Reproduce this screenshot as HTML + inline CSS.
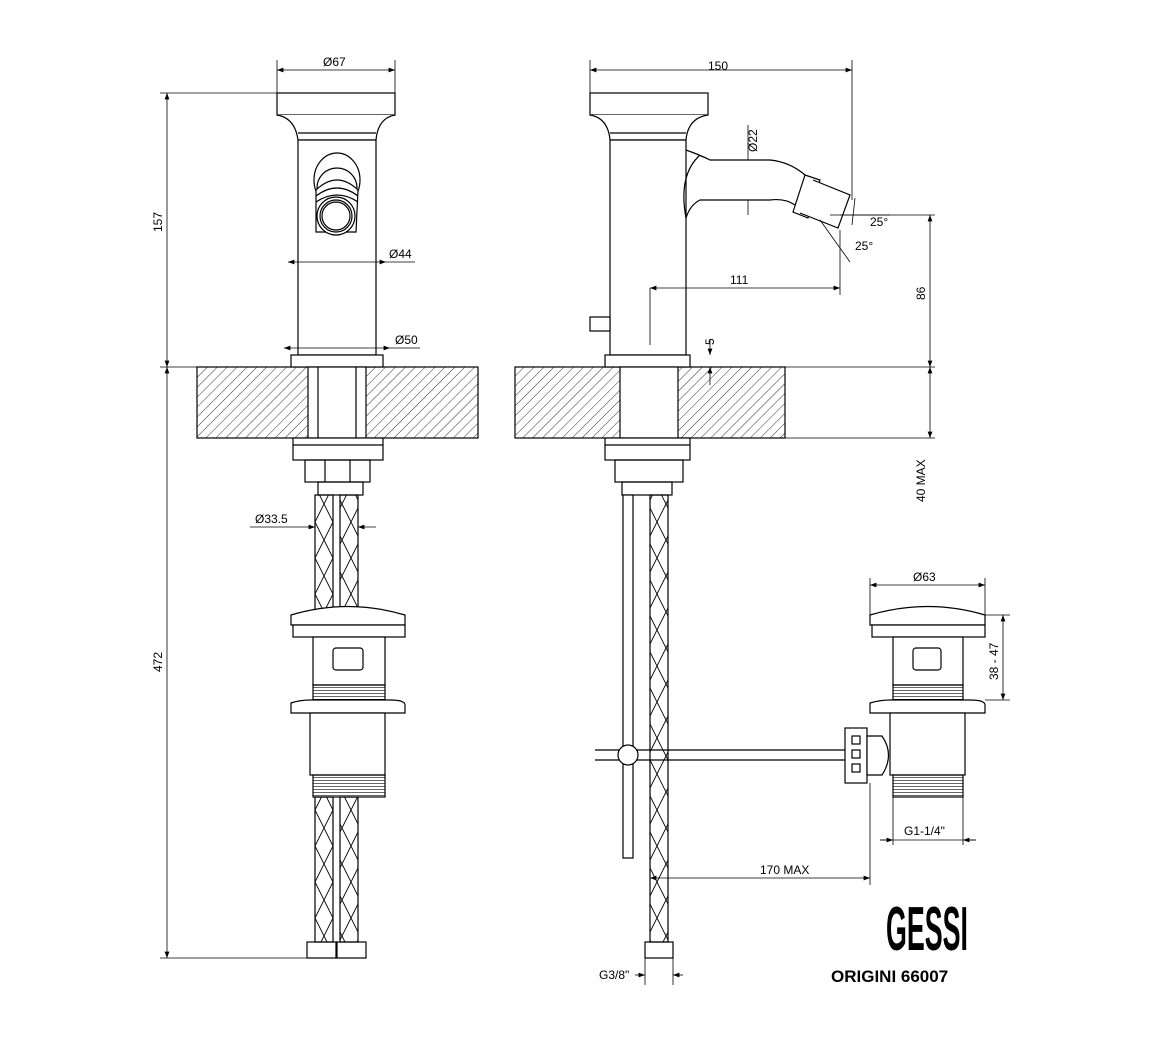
<!DOCTYPE html>
<html><head><meta charset="utf-8"><style>
html,body{margin:0;padding:0;background:#fff;}
svg{display:block;}
text{font-family:"Liberation Sans",sans-serif;font-size:12px;fill:#000;}
</style></head><body>
<svg width="1150" height="1050" viewBox="0 0 1150 1050" xmlns="http://www.w3.org/2000/svg">
<defs>
<pattern id="h" patternUnits="userSpaceOnUse" width="7" height="7" patternTransform="rotate(45)">
<line x1="0" y1="0" x2="0" y2="7" stroke="#000" stroke-width="0.8"/>
</pattern>
<pattern id="br" patternUnits="userSpaceOnUse" width="18" height="36">
<path d="M0,0 L18,36 M18,0 L0,36" stroke="#000" stroke-width="0.9" fill="none"/>
</pattern>
<pattern id="th" patternUnits="userSpaceOnUse" width="3" height="3">
<line x1="0" y1="0" x2="3" y2="0" stroke="#000" stroke-width="1.2"/>
</pattern>
<marker id="a" markerWidth="8" markerHeight="6" refX="8" refY="3" orient="auto-start-reverse"><path d="M0,0 L8,3 L0,6 z" fill="#000"/></marker>
</defs>
<g fill="none" stroke="#000" stroke-width="1.2">
<rect x="197" y="367" width="281" height="71" fill="url(#h)"/>
<rect x="515" y="367" width="270" height="71" fill="url(#h)"/>
<!-- LEFT FAUCET -->
<rect x="277" y="93" width="118" height="22" fill="#fff"/>
<path d="M277,115 Q295,118 298,140 L376,140 Q378,118 395,115" fill="#fff"/>
<line x1="298" y1="133" x2="376" y2="133"/>
<rect x="298" y="140" width="78" height="215" fill="#fff"/>
<ellipse cx="337" cy="180" rx="23" ry="27"/>
<ellipse cx="337" cy="188" rx="20" ry="20"/>
<path d="M316,190 Q337,170 358,190 L356,232 L316,232 Z" fill="#fff"/>
<path d="M316,196 Q337,180 358,196"/>
<path d="M316,202 Q337,188 358,202"/>
<circle cx="336" cy="216" r="19" fill="#fff"/>
<circle cx="336" cy="216" r="16"/>
<circle cx="336" cy="216" r="14"/>
<rect x="291" y="355" width="92" height="12" fill="#fff"/>
<rect x="308" y="367" width="58" height="71" fill="#fff"/>
<line x1="318" y1="367" x2="318" y2="438"/><line x1="356" y1="367" x2="356" y2="438"/>
<rect x="293" y="438" width="90" height="22" fill="#fff"/>
<line x1="293" y1="445" x2="383" y2="445"/>
<rect x="305" y="460" width="65" height="22"/>
<line x1="325" y1="460" x2="325" y2="482"/><line x1="350" y1="460" x2="350" y2="482"/>
<rect x="318" y="482" width="45" height="13"/>
<rect x="315" y="495" width="18" height="115" fill="url(#br)"/>
<rect x="340" y="495" width="18" height="115" fill="url(#br)"/>
<rect x="315" y="797" width="18" height="145" fill="url(#br)"/>
<rect x="340" y="797" width="18" height="145" fill="url(#br)"/>
<rect x="307" y="942" width="30" height="16"/><rect x="336" y="942" width="30" height="16"/>
<path d="M291,615 Q348,598 405,615 L405,625 L291,625 Z" fill="#fff"/>
<rect x="293" y="625" width="112" height="12" fill="#fff"/>
<rect x="313" y="637" width="72" height="48" fill="#fff"/>
<rect x="333" y="648" width="30" height="22" rx="3"/>
<rect x="313" y="685" width="72" height="15" fill="url(#th)"/>
<path d="M291,713 L291,703 Q300,700 310,700 L390,700 Q405,700 405,705 L405,713 Z" fill="#fff"/>
<rect x="310" y="713" width="75" height="62" fill="#fff"/>
<rect x="313" y="775" width="72" height="22" fill="url(#th)"/>
<!-- RIGHT FAUCET -->
<rect x="590" y="93" width="118" height="22" fill="#fff"/>
<path d="M590,115 Q608,118 610,140 L686,140 Q688,118 708,115" fill="#fff"/>
<line x1="610" y1="133" x2="686" y2="133"/>
<rect x="610" y="140" width="76" height="215" fill="#fff"/>
<path d="M686,150 Q700,155 710,160 L770,160 Q790,162 805,175"/>
<path d="M686,218 Q678,175 700,155"/>
<path d="M686,218 Q690,205 700,200 L770,200 Q785,198 795,205"/>
<path d="M805,175 L820,180 L808,218 L793,212 Z" fill="#fff"/>
<path d="M813,180 L850,195 L838,228 L800,213" fill="#fff"/>
<rect x="590" y="317" width="20" height="14" fill="#fff"/>
<rect x="605" y="355" width="85" height="12" fill="#fff"/>
<rect x="620" y="367" width="58" height="71" fill="#fff"/>
<rect x="605" y="438" width="85" height="22" fill="#fff"/>
<line x1="605" y1="445" x2="690" y2="445"/>
<rect x="615" y="460" width="68" height="22"/>
<rect x="622" y="482" width="50" height="13"/>
<rect x="623" y="495" width="10" height="363" fill="#fff"/>
<rect x="650" y="495" width="18" height="447" fill="url(#br)"/>
<rect x="645" y="942" width="28" height="16"/>
<line x1="595" y1="750" x2="850" y2="750"/><line x1="595" y1="760" x2="850" y2="760"/>
<circle cx="628" cy="755" r="10" fill="#fff"/>
<rect x="845" y="728" width="22" height="55" fill="#fff"/>
<rect x="852" y="736" width="8" height="8"/><rect x="852" y="750" width="8" height="8"/><rect x="852" y="764" width="8" height="8"/>
<path d="M867,736 L882,736 Q895,755 882,775 L867,775 Z" fill="#fff"/>
<path d="M870,615 Q928,598 985,615 L985,625 L870,625 Z" fill="#fff"/>
<rect x="872" y="625" width="113" height="12" fill="#fff"/>
<rect x="893" y="637" width="70" height="48" fill="#fff"/>
<rect x="913" y="648" width="28" height="22" rx="3"/>
<rect x="893" y="685" width="70" height="15" fill="url(#th)"/>
<path d="M870,713 L870,703 Q880,700 890,700 L970,700 Q985,700 985,705 L985,713 Z" fill="#fff"/>
<rect x="890" y="713" width="75" height="62" fill="#fff"/>
<rect x="893" y="775" width="70" height="22" fill="url(#th)"/>
</g>
<g fill="none" stroke="#000" stroke-width="0.8">
<line x1="277" y1="60" x2="277" y2="93"/><line x1="395" y1="60" x2="395" y2="93"/>
<line x1="277" y1="70" x2="395" y2="70" marker-start="url(#a)" marker-end="url(#a)"/>
<line x1="160" y1="93" x2="277" y2="93"/><line x1="160" y1="367" x2="197" y2="367"/><line x1="160" y1="958" x2="307" y2="958"/>
<line x1="167" y1="93" x2="167" y2="367" marker-start="url(#a)" marker-end="url(#a)"/>
<line x1="167" y1="367" x2="167" y2="958" marker-start="url(#a)" marker-end="url(#a)"/>
<line x1="288" y1="262" x2="386" y2="262" marker-start="url(#a)" marker-end="url(#a)"/><line x1="386" y1="262" x2="415" y2="262"/>
<line x1="284" y1="348" x2="390" y2="348" marker-start="url(#a)" marker-end="url(#a)"/><line x1="390" y1="348" x2="420" y2="348"/>
<line x1="250" y1="527" x2="315" y2="527" marker-end="url(#a)"/><line x1="376" y1="527" x2="358" y2="527" marker-end="url(#a)"/>
<line x1="590" y1="60" x2="590" y2="93"/><line x1="852" y1="60" x2="852" y2="200"/>
<line x1="590" y1="70" x2="852" y2="70" marker-start="url(#a)" marker-end="url(#a)"/>
<line x1="748" y1="125" x2="748" y2="160" /><line x1="748" y1="200" x2="748" y2="215"/>
<line x1="650" y1="288" x2="840" y2="288" marker-start="url(#a)" marker-end="url(#a)"/>
<line x1="650" y1="288" x2="650" y2="345"/><line x1="840" y1="230" x2="840" y2="295"/>
<line x1="840" y1="215" x2="935" y2="215"/>
<line x1="930" y1="215" x2="930" y2="367" marker-start="url(#a)" marker-end="url(#a)"/>
<line x1="785" y1="367" x2="935" y2="367"/><line x1="785" y1="438" x2="935" y2="438"/>
<line x1="930" y1="367" x2="930" y2="438" marker-start="url(#a)" marker-end="url(#a)"/>
<line x1="710" y1="340" x2="710" y2="355" marker-end="url(#a)"/><line x1="710" y1="385" x2="710" y2="367" marker-end="url(#a)"/>
<line x1="830" y1="215" x2="890" y2="215"/><line x1="855" y1="198" x2="852" y2="225"/>
<line x1="820" y1="220" x2="850" y2="262"/>
<line x1="870" y1="578" x2="870" y2="615"/><line x1="985" y1="578" x2="985" y2="615"/>
<line x1="870" y1="585" x2="985" y2="585" marker-start="url(#a)" marker-end="url(#a)"/>
<line x1="985" y1="615" x2="1010" y2="615"/><line x1="985" y1="700" x2="1010" y2="700"/>
<line x1="1003" y1="615" x2="1003" y2="700" marker-start="url(#a)" marker-end="url(#a)"/>
<line x1="880" y1="840" x2="893" y2="840" marker-end="url(#a)"/><line x1="976" y1="840" x2="963" y2="840" marker-end="url(#a)"/>
<line x1="880" y1="840" x2="976" y2="840"/>
<line x1="893" y1="797" x2="893" y2="845"/><line x1="963" y1="797" x2="963" y2="845"/>
<line x1="650" y1="878" x2="870" y2="878" marker-start="url(#a)" marker-end="url(#a)"/>
<line x1="870" y1="783" x2="870" y2="885"/>
<line x1="635" y1="975" x2="645" y2="975" marker-end="url(#a)"/><line x1="683" y1="975" x2="673" y2="975" marker-end="url(#a)"/>
<line x1="645" y1="958" x2="645" y2="985"/><line x1="673" y1="958" x2="673" y2="985"/>
</g>
<text x="323" y="66">Ø67</text>
<text x="389" y="258">Ø44</text>
<text x="395" y="344">Ø50</text>
<text x="255" y="523">Ø33.5</text>
<text x="162" y="232" transform="rotate(-90 162 232)">157</text>
<text x="162" y="672" transform="rotate(-90 162 672)">472</text>
<text x="708" y="70">150</text>
<text x="757" y="152" transform="rotate(-90 757 152)">Ø22</text>
<text x="730" y="284">111</text>
<text x="925" y="300" transform="rotate(-90 925 300)">86</text>
<text x="925" y="502" transform="rotate(-90 925 502)">40 MAX</text>
<text x="714" y="345" transform="rotate(-90 714 345)">5</text>
<text x="870" y="226">25°</text>
<text x="855" y="250">25°</text>
<text x="913" y="581">Ø63</text>
<text x="998" y="680" transform="rotate(-90 998 680)">38 - 47</text>
<text x="904" y="835">G1-1/4"</text>
<text x="760" y="874">170 MAX</text>
<text x="599" y="979">G3/8"</text>
<text x="886" y="950" textLength="82" lengthAdjust="spacingAndGlyphs" style="font-size:62px;font-weight:bold">GESSI</text>
<text x="831" y="982" style="font-size:17px;font-weight:bold">ORIGINI 66007</text>
</svg>
</body></html>
